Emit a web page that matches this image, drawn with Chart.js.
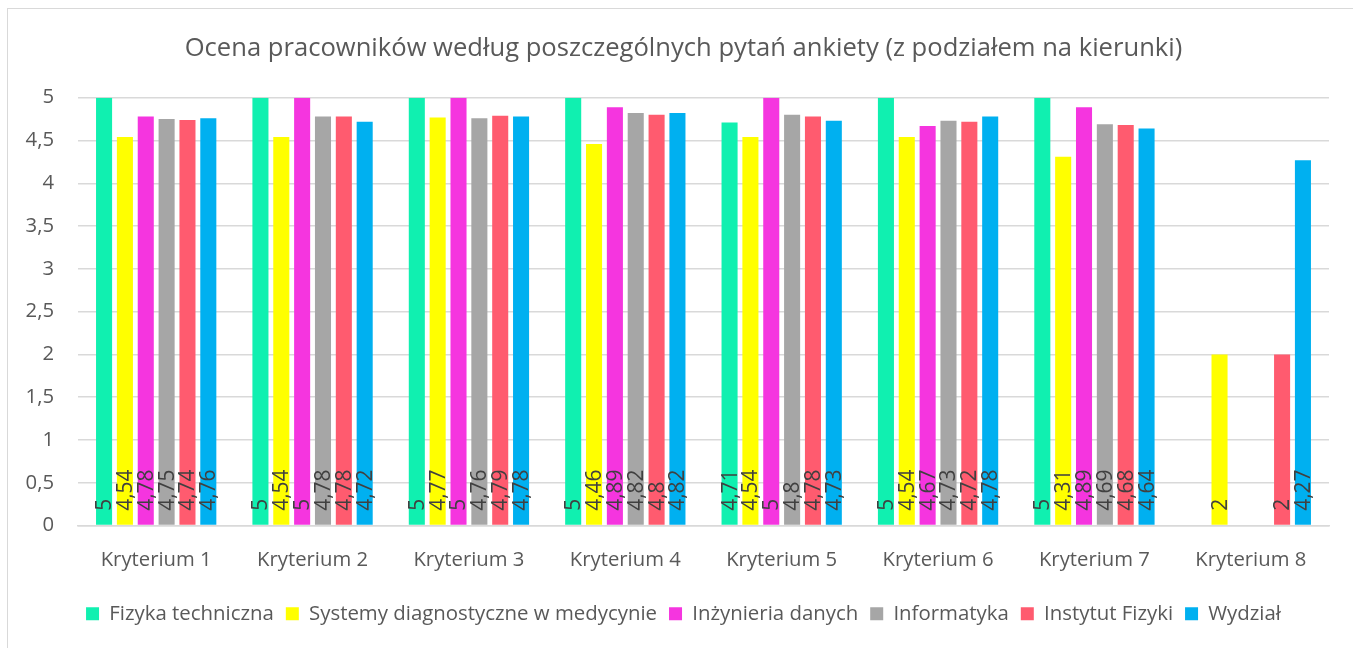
<!DOCTYPE html>
<html>
<head>
<meta charset="utf-8">
<script src="https://cdn.jsdelivr.net/npm/chart.js@4.4.0/dist/chart.umd.min.js"></script>
<style>
  html, body { margin: 0; padding: 0; background: #fff; }
  #frame { position: absolute; left: 7px; top: 8px; width: 1400px; height: 700px;
           border-left: 1.5px solid #d9d9d9; border-top: 1.5px solid #d9d9d9; }
  #wrap { position: absolute; left: 0; top: 0; width: 1353px; height: 648px; }
</style>
</head>
<body>
<div id="frame"></div>
<div id="wrap"><canvas id="chart" role="img" aria-label="Ocena pracowników według poszczególnych pytań ankiety z podziałem na kierunki"></canvas></div>
<script>
// categories and series
const categories = ['Kryterium 1', 'Kryterium 2', 'Kryterium 3', 'Kryterium 4',
                    'Kryterium 5', 'Kryterium 6', 'Kryterium 7', 'Kryterium 8']
const fizykaTechniczna = [5, 5, 5, 5, 4.71, 5, 5, null]
const systemyDiagnostyczne = [4.54, 4.54, 4.77, 4.46, 4.54, 4.54, 4.31, 2]
const inzynieriaDanych = [4.78, 5, 5, 4.89, 5, 4.67, 4.89, null]
const informatyka = [4.75, 4.78, 4.76, 4.82, 4.8, 4.73, 4.69, null]
const instytutFizyki = [4.74, 4.78, 4.79, 4.8, 4.78, 4.72, 4.68, 2]
const wydzial = [4.76, 4.72, 4.78, 4.82, 4.73, 4.78, 4.64, 4.27]
const yTicks = [0, 0.5, 1, 1.5, 2, 2.5, 3, 3.5, 4, 4.5, 5]

const FONT = '"Open Sans", "Noto Sans", sans-serif'
const fmt = v => String(v).replace('.', ',')

// value labels rotated, sitting at the base of each bar (like Excel "inside base")
const baseLabels = {
  id: 'baseLabels',
  afterDatasetsDraw(chart) {
    const g = chart.ctx
    g.save()
    g.font = '21px ' + FONT
    g.fillStyle = '#404040'
    g.textAlign = 'left'
    g.textBaseline = 'middle'
    chart.data.datasets.forEach((ds, i) => {
      const meta = chart.getDatasetMeta(i)
      meta.data.forEach((bar, j) => {
        const v = ds.data[j]
        if (v === null || v === undefined) return
        g.save()
        g.translate(bar.x, bar.base - 14)
        g.rotate(-Math.PI / 2)
        g.fillText(fmt(v), 0, 1)
        g.restore()
      })
    })
    g.restore()
  }
}

// the Excel title and legend sit a bit right of the canvas centre
const centreShift = {
  id: 'centreShift',
  afterLayout(chart) {
    for (const box of [chart.titleBlock, chart.legend]) {
      if (!box) continue
      box.left += 19
      box.right += 19
    }
  }
}

const series = [
  ['Fizyka techniczna', fizykaTechniczna, '#10F0B0'],
  ['Systemy diagnostyczne w medycynie', systemyDiagnostyczne, '#FFFF00'],
  ['Inżynieria danych', inzynieriaDanych, '#F535DF'],
  ['Informatyka', informatyka, '#A6A6A6'],
  ['Instytut Fizyki', instytutFizyki, '#FF5B6F'],
  ['Wydział', wydzial, '#00B0F0']
]

new Chart(document.getElementById('chart'), {
  type: 'bar',
  data: {
    labels: categories,
    datasets: series.map(([label, data, color]) => ({
      label, data, backgroundColor: color, borderWidth: 0,
      categoryPercentage: 0.8, barPercentage: 0.77
    }))
  },
  options: {
    responsive: true,
    maintainAspectRatio: false,
    animation: false,
    layout: { padding: { left: 0, right: 24, top: 0, bottom: 14 } },
    plugins: {
      title: {
        display: true,
        text: 'Ocena pracowników według poszczególnych pytań ankiety (z podziałem na kierunki)',
        color: '#595959',
        font: { family: FONT, size: 25.6, weight: 'normal' },
        padding: { top: 33, bottom: 34 }
      },
      legend: {
        position: 'bottom',
        labels: {
          color: '#595959',
          font: { family: FONT, size: 20.4 },
          boxWidth: 13, boxHeight: 13, padding: 12
        }
      },
      tooltip: { enabled: false }
    },
    scales: {
      x: {
        grid: { display: false, drawTicks: false },
        border: { color: '#d9d9d9', width: 1.5 },
        ticks: { color: '#595959', font: { family: FONT, size: 20.3 }, padding: 22 },
        afterFit: s => { s.height = 66 }
      },
      y: {
        min: 0, max: 5,
        afterBuildTicks: s => { s.ticks = yTicks.map(value => ({ value })) },
        grid: { color: '#d9d9d9', lineWidth: 1.5, drawTicks: false },
        border: { display: false },
        ticks: { color: '#595959', font: { family: FONT, size: 20.3 }, padding: 24, callback: v => fmt(v) },
        afterFit: s => { s.width = 78 }
      }
    }
  },
  plugins: [baseLabels, centreShift]
})
</script>
</body>
</html>
